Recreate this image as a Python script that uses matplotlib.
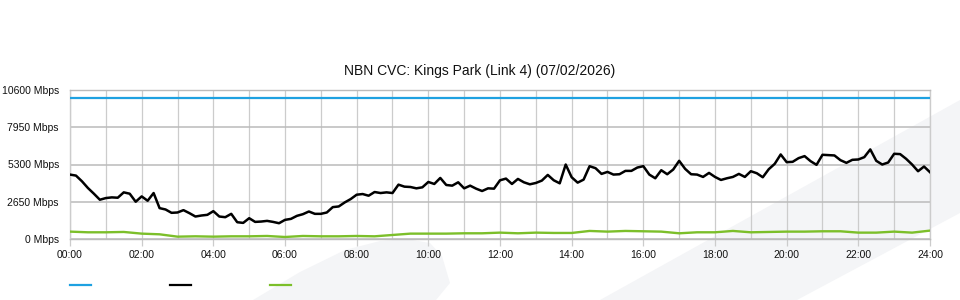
import numpy as np
import matplotlib
matplotlib.use('Agg')
import matplotlib.pyplot as plt
from matplotlib.patches import Polygon
from matplotlib.lines import Line2D

# Data (Mbps)
capacity_hours = [0, 24]
capacity = [10000, 10000]

# traffic, 10 minute samples from 00:00 to 24:00
traffic_minutes = np.arange(0, 1441, 10)
traffic = [4583, 4511, 4106, 3628, 3222, 2793, 2912, 2960, 2936, 3318, 3222, 2650, 3031,
           2721, 3270, 2196, 2100, 1862, 1886, 2053, 1838, 1599, 1671, 1719, 1981, 1599,
           1552, 1790, 1194, 1146, 1480, 1217, 1241, 1289, 1217, 1122, 1361, 1432, 1647,
           1766, 1957, 1790, 1790, 1886, 2268, 2315, 2602, 2841, 3151,
           3199, 3079, 3342, 3270, 3318, 3270, 3867, 3724, 3700, 3604, 3676, 4058, 3915,
           4344, 3843, 3795, 4034, 3604, 3795, 3581, 3413, 3604, 3581, 4177, 4297, 3915,
           4273, 4034, 3891, 3986, 4153, 4559, 4177, 3962, 5299, 4392, 4010, 4225, 5180,
           5037, 4631, 4774, 4583, 4607, 4846, 4846, 5084, 5180,
           4583, 4320, 4893, 4607, 4941, 5562, 4989, 4607, 4583, 4416, 4702, 4416, 4201,
           4320, 4416, 4631, 4416, 4822, 4679, 4392, 4965, 5347, 6015, 5466, 5490, 5753,
           5896, 5538, 5275, 5991, 5968, 5944, 5609, 5418, 5633, 5657, 5824, 6373, 5562,
           5299, 5442, 6063, 6039, 5705, 5299, 4822, 5156, 4750]

# second series, 30 minute samples
low_minutes = np.arange(0, 1441, 30)
low = [525, 477, 477, 501, 382, 334, 167, 191, 167, 191, 191, 215, 143, 215, 191, 191,
       215, 191, 286, 382, 382, 382, 406, 406, 453, 406, 453, 430, 430, 573, 525, 573,
       549, 525, 406, 477, 477, 573, 477, 501, 525, 525, 549, 549, 453, 453, 525, 453, 597]

y_ticks = [0, 2650, 5300, 7950, 10600]
x_ticks = list(range(0, 25, 2))

plt.rcParams['font.family'] = ['Liberation Sans', 'DejaVu Sans']

fig = plt.figure(figsize=(9.6, 3.0), dpi=100)
W, H = 960, 300

def px(x, y):
    return (x / W, 1 - y / H)

# faint background shapes
bg = '#f4f5f7'
blob = [(253, 300), (300, 272), (345, 250), (380, 241), (407, 239), (430, 243),
        (442, 256), (450, 283), (436, 300)]
band = [(600, 300), (960, 100), (960, 213), (797, 300)]
for shape in (blob, band):
    fig.add_artist(Polygon([px(*p) for p in shape], closed=True, facecolor=bg,
                           edgecolor='none', transform=fig.transFigure, zorder=-5))

ax = fig.add_axes([70 / W, 1 - 239 / H, 860 / W, 149 / H])
ax.set_facecolor('none')
ax.set_zorder(1)

ax.plot(capacity_hours, capacity, color='#1ea1e1', lw=1.6, zorder=3)
ax.plot(traffic_minutes / 60, traffic, color='black', lw=1.8, zorder=4)
ax.plot(low_minutes / 60, low, color='#7cbf2a', lw=1.7, zorder=3)

ax.set_xlim(0, 24)
ax.set_ylim(0, 10600)
ax.set_yticks(y_ticks)
ax.set_yticklabels([f'{v} Mbps' for v in y_ticks])
ax.set_xticks(x_ticks)
ax.set_xticklabels([f'{h:02d}:00' for h in x_ticks])
ax.set_xticks(range(1, 24, 2), minor=True)

ax.grid(axis='y', color='#bbbbbb', lw=1.1, zorder=1)
ax.grid(axis='x', which='both', color='#cccccc', lw=0.9, zorder=1)
ax.tick_params(axis='y', length=0, pad=8, labelsize=7.5, labelcolor='#111111')
ax.tick_params(axis='x', which='major', length=5, color='#cccccc', width=0.9,
               pad=3, labelsize=7.5, labelcolor='#111111')
ax.tick_params(axis='x', which='minor', length=0)
ax.spines['left'].set_color('#cccccc')
ax.spines['right'].set_color('#cccccc')
ax.spines['top'].set_color('#bbbbbb')
ax.spines['bottom'].set_color('#bbbbbb')
for s in ax.spines.values():
    s.set_linewidth(1.0)

fig.text(0.5, 1 - 71 / H, 'NBN CVC: Kings Park (Link 4) (07/02/2026)', ha='center',
         va='center', fontsize=10, color='#111111')

# legend swatches (no labels in the original)
for x0, c in [(70, '#1ea1e1'), (170, 'black'), (270, '#7cbf2a')]:
    fig.add_artist(Line2D([x0 / W, (x0 + 21) / W], [1 - 285 / H] * 2, color=c, lw=1.6,
                          transform=fig.transFigure))

plt.savefig('out.png', dpi=100)
